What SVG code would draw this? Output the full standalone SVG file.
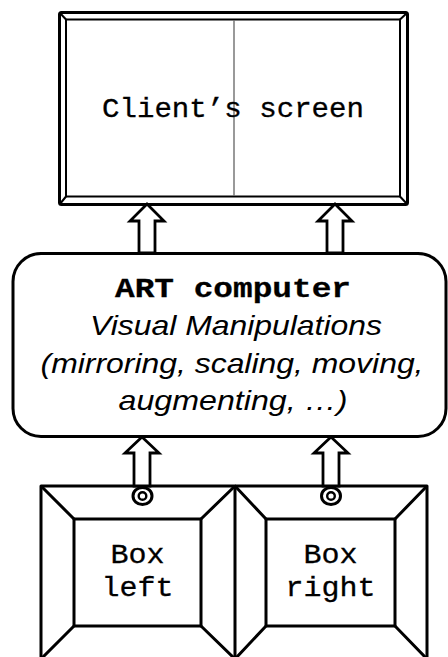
<svg xmlns="http://www.w3.org/2000/svg" width="448" height="657" viewBox="0 0 448 657">
<style>
.ln{fill:none;stroke:#000;stroke-width:3;stroke-linejoin:round}
.thin{fill:none;stroke:#000;stroke-width:2}
.arr{fill:#fff;stroke:#000;stroke-width:2.8;stroke-linejoin:miter}
.mono{font-family:"Liberation Mono","Courier New",monospace;font-size:28px;fill:#000;stroke:#000;stroke-width:0.3}
.sans{font-family:"Liberation Sans",Arial,sans-serif;font-style:italic;font-size:28px;fill:#000}
</style>
<rect width="448" height="657" fill="#fff"/>
<g id="screen">
  <rect x="59.5" y="12.5" width="348" height="192" rx="2" class="ln" stroke-width="3.5" fill="#fff"/>
  <rect x="66" y="19.5" width="334" height="177" class="thin" stroke-width="2.5"/>
  <path d="M59.5,12.5 L66,19.5 M407.5,12.5 L400,19.5 M59.5,204.5 L66,196.5 M407.5,204.5 L400,196.5" class="thin"/>
  <line x1="234" y1="20.5" x2="234" y2="195.5" stroke="#555" stroke-width="1.2"/>
  <text x="233" y="117" class="mono" text-anchor="middle" textLength="262" lengthAdjust="spacingAndGlyphs">Client’s screen</text>
</g>
<g id="art">
  <rect x="13" y="253.5" width="433" height="183" rx="28" ry="28" class="ln" stroke-width="2.5" fill="#fff"/>
  <text x="233" y="297" class="mono" font-weight="bold" text-anchor="middle" textLength="236" lengthAdjust="spacingAndGlyphs">ART computer</text>
  <text x="236" y="335" class="sans" text-anchor="middle" textLength="292" lengthAdjust="spacingAndGlyphs">Visual Manipulations</text>
  <text x="232" y="373" class="sans" text-anchor="middle" textLength="383" lengthAdjust="spacingAndGlyphs">(mirroring, scaling, moving,</text>
  <text x="233" y="410" class="sans" text-anchor="middle" textLength="229" lengthAdjust="spacingAndGlyphs">augmenting, …)</text>
</g>
<g id="box-left">
  <path d="M41,660 V486 H235 V660" class="ln"/>
  <rect x="74" y="519" width="127" height="107" class="ln"/>
  <path d="M41,486 L74,519 M235,486 L201,519 M41,659 L74,626 M235,659 L201,626" class="ln" stroke-width="2.8"/>
  <text x="137.5" y="563" class="mono" text-anchor="middle" textLength="54" lengthAdjust="spacingAndGlyphs">Box</text>
  <text x="137.5" y="596" class="mono" text-anchor="middle" textLength="72" lengthAdjust="spacingAndGlyphs">left</text>
</g>
<g id="box-right">
  <path d="M235,486 H427 V660" class="ln"/>
  <rect x="266" y="519" width="129" height="107" class="ln"/>
  <path d="M235,486 L266,519 M427,486 L395,519 M235,659 L266,626 M427,659 L395,626" class="ln" stroke-width="2.8"/>
  <text x="330.5" y="563" class="mono" text-anchor="middle" textLength="54" lengthAdjust="spacingAndGlyphs">Box</text>
  <text x="330.5" y="596" class="mono" text-anchor="middle" textLength="90" lengthAdjust="spacingAndGlyphs">right</text>
</g>
<g id="connectors">
  <path class="arr" d="M147,204 L164,221 L155,221 L155,253 L139,253 L139,221 L130,221 Z"/>
  <path class="arr" d="M335,204 L352,221 L343,221 L343,253 L327,253 L327,221 L318,221 Z"/>
  <path class="arr" d="M142,437 L159,453 L150,453 L150,486 L134,486 L134,453 L125,453 Z"/>
  <path class="arr" d="M331,437 L348,453 L339,453 L339,486 L323,486 L323,453 L314,453 Z"/>
  <ellipse cx="142.5" cy="496" rx="9.5" ry="8.5" fill="#fff" stroke="#000" stroke-width="3"/>
  <circle cx="142.5" cy="496" r="3.8" fill="#fff" stroke="#000" stroke-width="2.4"/>
  <ellipse cx="331" cy="496" rx="9.5" ry="8.5" fill="#fff" stroke="#000" stroke-width="3"/>
  <circle cx="331" cy="496" r="3.8" fill="#fff" stroke="#000" stroke-width="2.4"/>
</g>
</svg>
